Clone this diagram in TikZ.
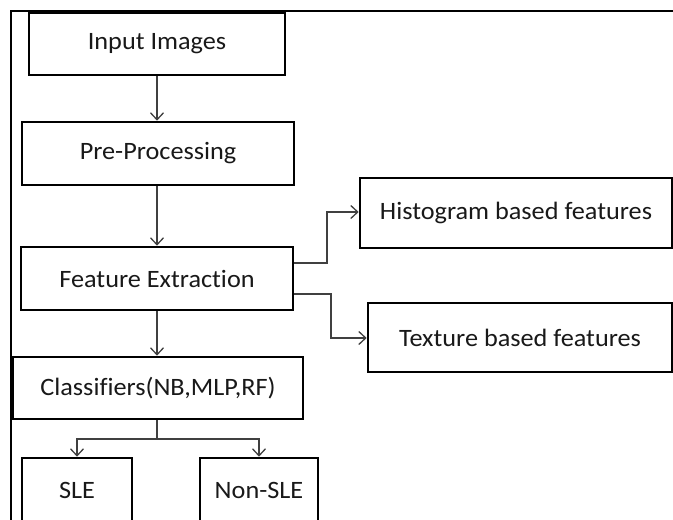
\documentclass[tikz,border=0pt]{standalone}
\usepackage{fontspec}
\newfontfamily\boxfont[FakeStretch=1.05, Ligatures={NoCommon}]{Carlito}
\usetikzlibrary{arrows.meta}
\tikzset{
  stage/.style={draw=black, line width=2.6pt, fill=white, inner sep=0pt,
    font=\boxfont\fontsize{25}{30}\selectfont, text=black!90},
  flow/.style={draw=black!75, line width=1.3pt,
    -{Straight Barb[length=7pt,width=13pt,line width=1.3pt]}},
  link/.style={draw=black!75, line width=1.3pt}
}
\begin{document}
\begin{tikzpicture}[x=1pt,y=-1pt]
  \useasboundingbox (0,0) rectangle (673,520);
  \clip (0,0) rectangle (673,520);
  % outer frame (left and top edges only are visible)
  \draw[line width=2.6pt] (11,521) -- (11,11) -- (674,11);

  % stages
  \node[stage, minimum width=256pt, minimum height=62pt] (in)   at (157,44)    {Input Images};
  \node[stage, minimum width=272pt, minimum height=63pt] (pre)  at (158,153.5) {Pre-Processing};
  \node[stage, minimum width=272pt, minimum height=63pt] (fe)   at (157,278.5) {Feature Extraction};
  \node[stage, minimum width=290pt, minimum height=62pt] (cls)  at (158,388)   {Classifiers(NB,MLP,RF)};
  \node[stage, minimum width=110pt, minimum height=64pt] (sle)  at (77,490)    {SLE};
  \node[stage, minimum width=118pt, minimum height=64pt] (nsle) at (259,490)   {Non-SLE};
  \node[stage, minimum width=312pt, minimum height=70pt] (hist) at (516,213)   {Histogram based features};
  \node[stage, minimum width=304pt, minimum height=69pt] (tex)  at (520,337.5) {Texture based features};

  % junction points
  \coordinate (fork) at (157,439);
  \coordinate (hA) at (327,263);
  \coordinate (hB) at (327,212);
  \coordinate (tA) at (331,294);
  \coordinate (tB) at (331,338);

  % connectors
  \draw[flow] (in.south -| 157,0) -- (pre.north -| 157,0);
  \draw[flow] (pre.south -| 157,0) -- (fe.north -| 157,0);
  \draw[flow] (fe.south) -- (cls.north -| 157,0);
  \draw[link] (cls.south -| fork) -- (fork);
  \draw[flow] (fork) -| (sle.north);
  \draw[flow] (fork) -| (nsle.north);
  \draw[flow] (fe.east |- hA) -- (hA) -- (hB) -- (hist.west |- hB);
  \draw[flow] (fe.east |- tA) -- (tA) -- (tB) -- (tex.west |- tB);
\end{tikzpicture}
\end{document}
